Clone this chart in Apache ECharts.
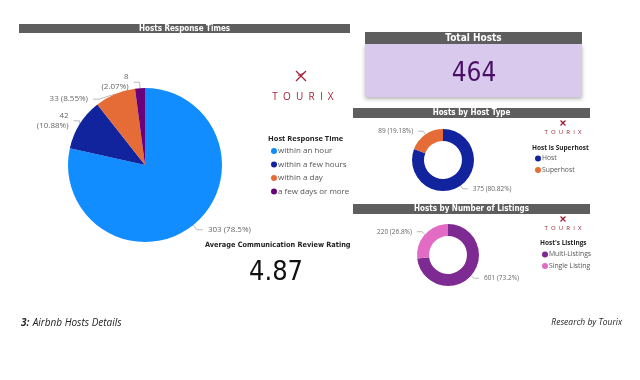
<!DOCTYPE html>
<html><head><meta charset="utf-8">
<script src="https://cdn.jsdelivr.net/npm/echarts@6/dist/echarts.min.js"></script>
<style>html,body{margin:0;padding:0;background:#fff}#c{width:640px;height:380px}</style>
</head><body><div id="c"></div>
<script>
const responseCats = ['within an hour','within a few hours','within a day','a few days or more'];
const responseVals = [303, 42, 33, 8];
const hostTypeCats = ['Host','Superhost'];
const hostTypeVals = [375, 89];
const listingCats = ['Multi-Listings','Single Listing'];
const listingVals = [601, 220];
const totalHosts = 464;
const avgRating = '4.87';

const respColors = ['#118DFF','#12239E','#E66C37','#6B007B'];
const hostColors = ['#12239E','#E66C37'];
const listColors = ['#7E2A93','#E26BC3'];
const DIN = '"DejaVu Sans Condensed","DejaVu Sans",sans-serif';
const UI = '"Open Sans","Noto Sans",sans-serif';

function pct(vals, v, dec){
  const s = vals.reduce((a,b)=>a+b,0);
  let p = (v/s*100).toFixed(dec);
  p = p.replace(/\.?0+$/,'');
  return p;
}
function mk(cats, vals){ return cats.map((n,i)=>({name:n, value:vals[i]})); }

function header(x,y,w,h,text,fs){
  return [
    {type:'rect', shape:{x:x,y:y,width:w,height:h}, style:{fill:'#5E5E5E'}},
    {type:'text', x:x+w/2, y:y+h/2, style:{text:text, fill:'#fff', font:'bold '+fs+'px '+DIN, align:'center', verticalAlign:'middle'}}
  ];
}
function logo(cx,cy,s,tx,ty,fs,sp){
  const col = '#A3243B';
  return [
    {type:'line', shape:{x1:cx-s,y1:cy-s,x2:cx+s,y2:cy+s}, style:{stroke:col,lineWidth:1.2}},
    {type:'line', shape:{x1:cx+s,y1:cy-s,x2:cx-s,y2:cy+s}, style:{stroke:col,lineWidth:1.2}},
    {type:'line', shape:{x1:cx-s*0.6,y1:cy-s*0.1,x2:cx+s*0.6,y2:cy-s*0.6}, style:{stroke:col,lineWidth:1}},
    {type:'text', x:tx, y:ty, style:{text:'T O U R I X'.replace(/ /g, sp), fill:col, font:fs+'px '+UI, align:'center', verticalAlign:'middle'}}
  ];
}

const chart = echarts.init(document.getElementById('c'));
const labelText = {color:'#666', fontSize:8, fontFamily:UI, lineHeight:10};

chart.setOption({
  animation:false,
  graphic:[].concat(
    header(19,24,331,9,'Hosts Response Times',8),
    [{type:'rect', shape:{x:365,y:44,width:217,height:53}, style:{fill:'#D9C9EC', shadowBlur:4, shadowOffsetY:2, shadowColor:'rgba(0,0,0,0.3)'}}],
    header(365,32,217,12,'Total Hosts',10),
    [{type:'text', x:474, y:74, style:{text:String(totalHosts), fill:'#4A0E66', font:'26px '+DIN, align:'center', verticalAlign:'middle'}}],
    header(353,108,237,10,'Hosts by Host Type',8),
    header(353,204,237,10,'Hosts by Number of Listings',8),
    logo(301,76,5,303,97,10,'  '),
    logo(563,123,2.5,563,132,6,'  '),
    logo(563,219,2.5,563,228,6,'  '),
    [
      {type:'text', x:268, y:139, style:{text:'Host Response Time', fill:'#252423', font:'bold 7.5px '+UI, verticalAlign:'middle'}},
      {type:'text', x:532, y:148, style:{text:'Host is Superhost', fill:'#252423', font:'bold 6.5px '+UI, verticalAlign:'middle'}},
      {type:'text', x:540, y:243, style:{text:"Host's Listings", fill:'#252423', font:'bold 6.5px '+UI, verticalAlign:'middle'}},
      {type:'text', x:205, y:245, style:{text:'Average Communication Review Rating', fill:'#252423', font:'bold 7.3px '+DIN, verticalAlign:'middle'}},
      {type:'text', x:276, y:273, style:{text:avgRating, fill:'#111', font:'27px '+DIN, align:'center', verticalAlign:'middle'}},
      {type:'text', x:21, y:323, style:{rich:{b:{font:'bold italic 10px '+UI, fill:'#252423'}, n:{font:'italic 10px '+UI, fill:'#252423'}}, text:'{b|3:} {n|Airbnb Hosts Details}', verticalAlign:'middle'}},
      {type:'text', x:622, y:323, style:{text:'Research by Tourix', fill:'#252423', font:'italic 8.5px '+UI, align:'right', verticalAlign:'middle'}}
    ]
  ),
  legend:[
    {data:responseCats, orient:'vertical', left:266, top:142, itemWidth:6, itemHeight:6, itemGap:5.5, icon:'circle',
      textStyle:{fontSize:8, fontFamily:UI, color:'#555', padding:[0,0,0,-4]}},
    {data:hostTypeCats, orient:'vertical', left:530, top:150, itemWidth:6, itemHeight:6, itemGap:4.5, icon:'circle',
      textStyle:{fontSize:6.8, fontFamily:UI, color:'#555', padding:[0,0,0,-4]}},
    {data:listingCats, orient:'vertical', left:537, top:246, itemWidth:6, itemHeight:6, itemGap:4.5, icon:'circle',
      textStyle:{fontSize:6.8, fontFamily:UI, color:'#555', padding:[0,0,0,-4]}}
  ],
  series:[
    {type:'pie', center:[145,165], radius:[0,77], startAngle:90, clockwise:true,
      data:mk(responseCats,responseVals), color:respColors,
      label:Object.assign({formatter:p=>{
        const t = p.value+' ('+pct(responseVals,p.value,2)+'%)';
        return (p.dataIndex===1||p.dataIndex===3) ? p.value+'\n('+pct(responseVals,p.value,2)+'%)' : t;
      }}, labelText),
      labelLine:{length:6,length2:6,lineStyle:{color:'#aaa',width:0.8}}},
    {type:'pie', center:[443,160], radius:[19,31], startAngle:90,
      data:mk(hostTypeCats,hostTypeVals), color:hostColors,
      label:Object.assign({formatter:p=>p.value+' ('+pct(hostTypeVals,p.value,2)+'%)'}, labelText, {fontSize:6.5}),
      labelLine:{length:4,length2:5,lineStyle:{color:'#aaa',width:0.8}}},
    {type:'pie', center:[448,255], radius:[19,31], startAngle:90,
      data:mk(listingCats,listingVals), color:listColors,
      label:Object.assign({formatter:p=>p.value+' ('+pct(listingVals,p.value,1)+'%)'}, labelText, {fontSize:6.5}),
      labelLine:{length:4,length2:5,lineStyle:{color:'#aaa',width:0.8}}}
  ]
});
</script></body></html>
